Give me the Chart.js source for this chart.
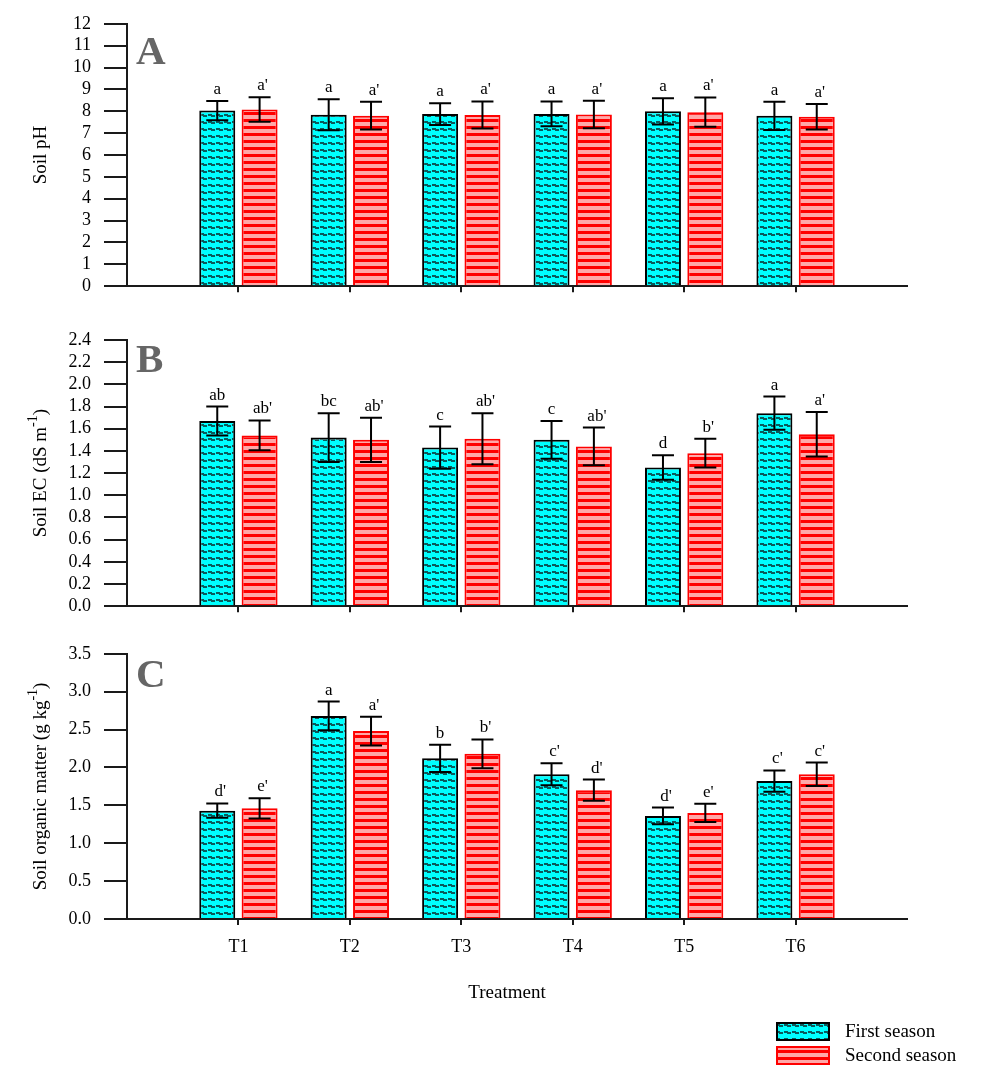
<!DOCTYPE html>
<html>
<head>
<meta charset="utf-8">
<script src="https://cdn.jsdelivr.net/npm/chart.js@4.4.0/dist/chart.umd.min.js"></script>
<style>
  html, body { margin: 0; padding: 0; background: #ffffff; }
  #wrap { position: relative; width: 984px; height: 1068px; overflow: hidden; }
  canvas { position: absolute; left: 0; }
</style>
</head>
<body>
<div id="wrap">
  <canvas id="chartPH" width="984" height="310" style="top:0px;width:984px;height:310px"></canvas>
  <canvas id="chartEC" width="984" height="320" style="top:310px;width:984px;height:320px"></canvas>
  <canvas id="chartOM" width="984" height="438" style="top:630px;width:984px;height:438px"></canvas>
</div>
<script>
// ---- data ----
const treatments = ['T1', 'T2', 'T3', 'T4', 'T5', 'T6'];
const seasonNames = ['First season', 'Second season'];

// Soil pH
const phFirst = [8.03, 7.84, 7.87, 7.88, 8.00, 7.79];
const phFirstErr = [0.44, 0.71, 0.50, 0.57, 0.60, 0.65];
const phSecond = [8.08, 7.80, 7.83, 7.85, 7.96, 7.75];
const phSecondErr = [0.56, 0.63, 0.62, 0.63, 0.67, 0.58];
const phFirstLetters = ['a', 'a', 'a', 'a', 'a', 'a'];
const phSecondLetters = ["a'", "a'", "a'", "a'", "a'", "a'"];
const phTicks = [0, 1, 2, 3, 4, 5, 6, 7, 8, 9, 10, 11, 12];

// Soil EC (dS m-1)
const ecFirst = [1.67, 1.52, 1.43, 1.50, 1.25, 1.74];
const ecFirstErr = [0.13, 0.22, 0.19, 0.17, 0.11, 0.15];
const ecSecond = [1.54, 1.50, 1.51, 1.44, 1.38, 1.55];
const ecSecondErr = [0.135, 0.20, 0.23, 0.17, 0.13, 0.20];
const ecFirstLetters = ['ab', 'bc', 'c', 'c', 'd', 'a'];
const ecSecondLetters = ["ab'", "ab'", "ab'", "ab'", "b'", "a'"];
const ecTicks = [0, 0.2, 0.4, 0.6, 0.8, 1.0, 1.2, 1.4, 1.6, 1.8, 2.0, 2.2, 2.4];

// Soil organic matter (g kg-1)
const omFirst = [1.43, 2.68, 2.12, 1.91, 1.36, 1.82];
const omFirstErr = [0.095, 0.19, 0.18, 0.145, 0.11, 0.14];
const omSecond = [1.46, 2.48, 2.18, 1.70, 1.40, 1.91];
const omSecondErr = [0.135, 0.19, 0.19, 0.14, 0.12, 0.155];
const omFirstLetters = ["d'", 'a', 'b', "c'", "d'", "c'"];
const omSecondLetters = ["e'", "a'", "b'", "d'", "e'", "c'"];
const omTicks = [0, 0.5, 1.0, 1.5, 2.0, 2.5, 3.0, 3.5];

// ---- fills ----
const SERIF = '"Liberation Serif", "Times New Roman", serif';
const INK = '#1a1a1a';

function makeTile(w, h, paint) {
  const c = document.createElement('canvas');
  c.width = w; c.height = h;
  const t = c.getContext('2d');
  paint(t);
  return document.createElement('canvas').getContext('2d').createPattern(c, 'repeat');
}
// cyan with dark stepped dashes
const firstFill = makeTile(8, 7, t => {
  t.fillStyle = '#00ffff'; t.fillRect(0, 0, 8, 7);
  t.fillStyle = '#0a5a5c';
  t.fillRect(0, 2, 4, 2);
  t.fillRect(3, 3, 4, 2);
});
// pink with red horizontal stripes
const secondFill = makeTile(8, 7, t => {
  t.fillStyle = '#ffa8a8'; t.fillRect(0, 0, 8, 7);
  t.fillStyle = '#ff0000'; t.fillRect(0, 0, 8, 3);
});

// ---- plugins ----
const errorBarsPlugin = {
  id: 'errorBars',
  afterDatasetsDraw(chart) {
    const ctx = chart.ctx;
    const yScale = chart.scales.y;
    chart.data.datasets.forEach((ds, di) => {
      const meta = chart.getDatasetMeta(di);
      meta.data.forEach((bar, i) => {
        const v = ds.data[i];
        if (v === null || v === undefined) return;
        const e = ds.errors[i - 1];
        const yTop = yScale.getPixelForValue(v + e);
        const yBot = yScale.getPixelForValue(v - e);
        const x = bar.x;
        ctx.save();
        ctx.strokeStyle = '#000';
        ctx.lineWidth = 2;
        ctx.beginPath();
        ctx.moveTo(x, yTop); ctx.lineTo(x, yBot);
        ctx.moveTo(x - 11, yTop); ctx.lineTo(x + 11, yTop);
        ctx.moveTo(x - 11, yBot); ctx.lineTo(x + 11, yBot);
        ctx.stroke();
        // significance letter
        const txt = ds.letters[i - 1];
        ctx.fillStyle = '#000';
        ctx.font = '17px ' + SERIF;
        ctx.textAlign = 'center';
        ctx.textBaseline = 'alphabetic';
        const shift = txt.indexOf("'") >= 0 ? 3 : 0;
        ctx.fillText(txt, x + shift, yTop - 7);
        ctx.restore();
      });
    });
  }
};

const decorPlugin = {
  id: 'decor',
  afterDraw(chart, args, opts) {
    const ctx = chart.ctx;
    const area = chart.chartArea;
    ctx.save();
    // panel letter
    ctx.fillStyle = '#666666';
    ctx.font = 'bold 41px ' + SERIF;
    ctx.textAlign = 'left';
    ctx.textBaseline = 'alphabetic';
    ctx.fillText(opts.panel, 136, opts.panelBaseline);

    // rotated y-axis title with optional superscript
    const cy = (area.top + area.bottom) / 2;
    ctx.translate(opts.titleX, cy);
    ctx.rotate(-Math.PI / 2);
    ctx.fillStyle = '#000';
    const mainFont = '19px ' + SERIF;
    const supFont = '14px ' + SERIF;
    const parts = opts.title;
    let total = 0;
    parts.forEach(p => { ctx.font = p.sup ? supFont : mainFont; total += ctx.measureText(p.text).width; });
    let x = -total / 2;
    ctx.textAlign = 'left';
    parts.forEach(p => {
      ctx.font = p.sup ? supFont : mainFont;
      ctx.fillText(p.text, x, p.sup ? -3 : 6);
      x += ctx.measureText(p.text).width;
    });
    ctx.restore();

    if (opts.xTitle) {
      ctx.save();
      ctx.fillStyle = '#000';
      ctx.font = '19px ' + SERIF;
      ctx.textAlign = 'center';
      ctx.textBaseline = 'middle';
      ctx.fillText(opts.xTitle, 507, opts.xTitleY);
      ctx.restore();
    }

    if (opts.legend) {
      ctx.save();
      chart.data.datasets.forEach((ds, i) => {
        const bx = 776, by = opts.legendY + i * 24, bw = 54, bh = 19;
        ctx.fillStyle = ds.backgroundColor;
        ctx.fillRect(bx, by, bw, bh);
        ctx.strokeStyle = ds.borderColor;
        ctx.lineWidth = 2;
        ctx.strokeRect(bx + 1, by + 1, bw - 2, bh - 2);
        ctx.fillStyle = '#000';
        ctx.font = '19px ' + SERIF;
        ctx.textAlign = 'left';
        ctx.textBaseline = 'middle';
        ctx.fillText(ds.label, 845, by + bh / 2 + 1);
      });
      ctx.restore();
    }
  }
};

// ---- chart builder ----
function buildChart(id, spec) {
  const pad = v => [null, ...v, null];
  const xLabels = ['', ...treatments, ''];
  return new Chart(document.getElementById(id), {
    type: 'bar',
    data: {
      labels: xLabels,
      datasets: [
        {
          label: seasonNames[0],
          data: pad(spec.first), errors: spec.firstErr, letters: spec.firstLetters,
          backgroundColor: firstFill, borderColor: '#000000', borderWidth: 2,
          categoryPercentage: 0.76, barPercentage: 0.85
        },
        {
          label: seasonNames[1],
          data: pad(spec.second), errors: spec.secondErr, letters: spec.secondLetters,
          backgroundColor: secondFill, borderColor: '#ff0000', borderWidth: 2,
          categoryPercentage: 0.76, barPercentage: 0.85
        }
      ]
    },
    options: {
      responsive: false,
      animation: false,
      devicePixelRatio: 1,
      layout: { padding: { top: spec.top, right: 77, left: 0, bottom: 0 } },
      plugins: {
        legend: { display: false },
        tooltip: { enabled: false },
        decor: {
          panel: spec.panel, panelBaseline: spec.panelBaseline,
          title: spec.title, titleX: 40,
          xTitle: spec.xTitle, xTitleY: spec.xTitleY,
          legend: spec.legend, legendY: spec.legendY
        }
      },
      scales: {
        x: {
          type: 'category',
          offset: false,
          grid: {
            offset: false,
            drawOnChartArea: false, drawTicks: true, tickLength: 6, lineWidth: 2,
            color: c => (c.index === 0 || c.index === xLabels.length - 1) ? 'rgba(0,0,0,0)' : INK
          },
          border: { display: true, color: INK, width: 2 },
          ticks: {
            display: spec.showX, autoSkip: false, maxRotation: 0, padding: 11,
            color: '#000', font: { family: SERIF, size: 18 }
          },
          afterFit: s => { s.height = spec.xHeight; }
        },
        y: {
          min: 0,
          max: spec.ticks[spec.ticks.length - 1],
          afterBuildTicks: s => { s.ticks = spec.ticks.map(v => ({ value: v })); },
          grid: { drawOnChartArea: false, drawTicks: true, tickLength: 23, lineWidth: 2, color: INK },
          border: { display: true, color: INK, width: 2 },
          ticks: {
            autoSkip: false,
            padding: 13, color: '#000', font: { family: SERIF, size: 18 },
            callback: v => Number(v).toFixed(spec.decimals)
          },
          afterFit: s => { s.width = 127; }
        }
      }
    },
    plugins: [errorBarsPlugin, decorPlugin]
  });
}

buildChart('chartPH', {
  first: phFirst, firstErr: phFirstErr, firstLetters: phFirstLetters,
  second: phSecond, secondErr: phSecondErr, secondLetters: phSecondLetters,
  ticks: phTicks, decimals: 0,
  top: 20, xHeight: 23, showX: false,
  panel: 'A', panelBaseline: 64,
  title: [{ text: 'Soil pH' }]
});

buildChart('chartEC', {
  first: ecFirst, firstErr: ecFirstErr, firstLetters: ecFirstLetters,
  second: ecSecond, secondErr: ecSecondErr, secondLetters: ecSecondLetters,
  ticks: ecTicks, decimals: 1,
  top: 30, xHeight: 23, showX: false,
  panel: 'B', panelBaseline: 62,
  title: [{ text: 'Soil EC (dS m' }, { text: '-1', sup: true }, { text: ')' }]
});

buildChart('chartOM', {
  first: omFirst, firstErr: omFirstErr, firstLetters: omFirstLetters,
  second: omSecond, secondErr: omSecondErr, secondLetters: omSecondLetters,
  ticks: omTicks, decimals: 1,
  top: 21, xHeight: 149, showX: true,
  panel: 'C', panelBaseline: 57,
  title: [{ text: 'Soil organic matter (g kg' }, { text: '-1', sup: true }, { text: ')' }],
  xTitle: 'Treatment', xTitleY: 363,
  legend: true, legendY: 392
});
</script>
</body>
</html>
